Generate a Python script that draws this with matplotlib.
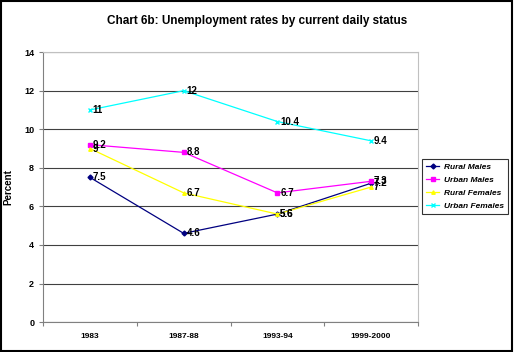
import numpy as np
import matplotlib.pyplot as plt

plt.rcParams['font.family'] = ['Liberation Sans', 'DejaVu Sans']

# ---------------------------------------------------------------------------
# Data
# ---------------------------------------------------------------------------
years          = ['1983', '1987-88', '1993-94', '1999-2000']
rural_males    = [7.5, 4.6, 5.6, 7.2]
urban_males    = [9.2, 8.8, 6.7, 7.3]
rural_females  = [9, 6.7, 5.6, 7]
urban_females  = [11, 12, 10.4, 9.4]

series = [
    ('Rural Males',   rural_males,   '#000080', 'D'),
    ('Urban Males',   urban_males,   '#FF00FF', 's'),
    ('Rural Females', rural_females, '#FFFF00', '^'),
    ('Urban Females', urban_females, '#00FFFF', 'x'),
]

fig = plt.figure(figsize=(5.14, 3.52), dpi=100)
ax = fig.add_axes([0.084, 0.085, 0.729, 0.767])

x = np.arange(len(years)) + 0.5
for name, vals, col, mk in series:
    ax.plot(x, vals, color=col, linewidth=0.9, marker=mk, markersize=2.5,
            label=name)
    for xi, v in zip(x, vals):
        ax.annotate(f'{v:g}', (xi, v), xytext=(2, 0), textcoords='offset points',
                    ha='left', va='center', fontsize=7, fontweight='bold')

ax.set_xlim(0, 4)
ax.set_ylim(0, 14)
ax.set_yticks(range(0, 15, 2))
ax.set_yticklabels([str(v) for v in range(0, 15, 2)], fontsize=6.5, fontweight='bold')
ax.set_xticks(range(0, 5))
ax.set_xticklabels([])
ax.set_xticks(x, minor=True)
ax.set_xticklabels(years, minor=True, fontsize=6, fontweight='bold')
ax.tick_params(axis='x', which='minor', length=0, pad=8)
ax.tick_params(axis='both', which='major', direction='out', length=3, color='#808080')
ax.yaxis.grid(True, color='#404040', linewidth=0.8)
ax.set_axisbelow(True)
for s in ['top', 'right']:
    ax.spines[s].set_color('#c0c0c0')
for s in ['left', 'bottom']:
    ax.spines[s].set_color('#808080')
ax.set_ylabel('Percent', fontsize=7, fontweight='bold', labelpad=8)

fig.text(0.5, 0.94, 'Chart 6b: Unemployment rates by current daily status',
         ha='center', va='center', fontsize=8.5, fontweight='bold')

leg = fig.legend(loc='center left', bbox_to_anchor=(0.821, 0.47),
                 prop={'style': 'italic', 'weight': 'bold', 'size': 6},
                 frameon=True, fancybox=False, edgecolor='black',
                 handlelength=1.6, handletextpad=0.5, borderpad=0.5,
                 labelspacing=0.6, borderaxespad=0)
leg.get_frame().set_linewidth(0.8)

fig.patches.append(plt.Rectangle((0.002, 0.003), 0.995, 0.993, transform=fig.transFigure,
                                 fill=False, edgecolor='black', linewidth=1.5))

fig.savefig('out.png', dpi=100)
